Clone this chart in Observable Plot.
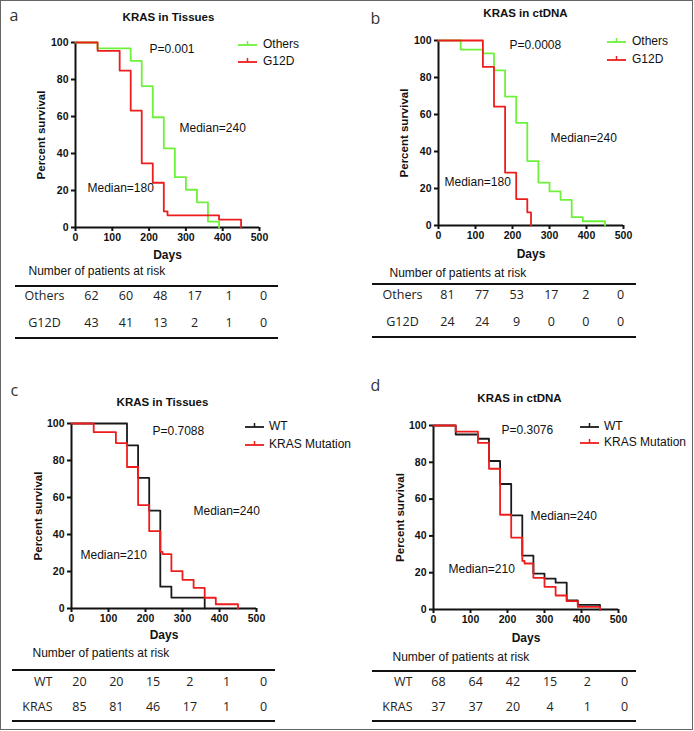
<!DOCTYPE html>
<html>
<head>
<meta charset="utf-8">
<script src="https://cdn.jsdelivr.net/npm/d3@7"></script>
<script src="https://cdn.jsdelivr.net/npm/@observablehq/plot@0.6"></script>
<style>
  body { margin: 0; background: white; }
  #fig { position: relative; width: 694px; height: 731px; background: white; overflow: hidden; }
  #border { position: absolute; left: 0; top: 0; width: 693px; height: 730px; border: 1.5px solid #666; box-sizing: border-box; }
  .panel { position: absolute; }
  .panel svg { position: absolute; left: 0; top: 0; }
  .abs { position: absolute; white-space: nowrap; }
  .leg { font-family: "Liberation Sans", Arial, sans-serif; font-size: 12px; color: #111; line-height: 1; }
  .hline { position: absolute; height: 2px; background: #111; }
</style>
</head>
<body>
<div id="fig"><div id="border"></div></div>
<script>
// ---------- data ----------
const xTicks = [0, 100, 200, 300, 400, 500];
const yTicks = [0, 20, 40, 60, 80, 100];
const riskDays = [0, 100, 200, 300, 400, 500];

// Panel a: KRAS in Tissues (Others vs G12D)
const aOthersDays = [0, 60, 150, 180, 210, 240, 270, 300, 330, 360, 390];
const aOthersSurv = [100, 96.8, 90.1, 76.4, 59.6, 42.8, 27.2, 20.4, 13.6, 3.2, 0];
const aG12DDays = [0, 60, 120, 150, 180, 210, 240, 250, 390, 450];
const aG12DSurv = [100, 95.5, 84.8, 63.2, 34.7, 24.2, 8.7, 6.6, 4.3, 0];
const aRiskOthers = [62, 60, 48, 17, 1, 0];
const aRiskG12D = [43, 41, 13, 2, 1, 0];

// Panel b: KRAS in ctDNA (Others vs G12D)
const bOthersDays = [0, 60, 120, 150, 180, 210, 240, 270, 300, 330, 360, 390, 450];
const bOthersSurv = [100, 95.1, 93, 83.8, 69.7, 55.5, 34.8, 23.2, 18.4, 13.9, 4.5, 2.3, 0];
const bG12DDays = [0, 120, 150, 180, 210, 240, 250];
const bG12DSurv = [100, 85.7, 64.3, 28.6, 14.3, 7.1, 0];
const bRiskOthers = [81, 77, 53, 17, 2, 0];
const bRiskG12D = [24, 24, 9, 0, 0, 0];

// Panel c: KRAS in Tissues (WT vs KRAS Mutation)
const cWTDays = [0, 150, 180, 210, 240, 270, 360];
const cWTSurv = [100, 88.2, 70.6, 52.9, 11.8, 5.9, 0];
const cMutDays = [0, 60, 120, 150, 180, 210, 240, 246, 270, 300, 330, 360, 390, 450];
const cMutSurv = [100, 95.3, 89.4, 76.5, 55.9, 41.8, 30.6, 29.4, 20.2, 15.5, 11.2, 5.8, 2.3, 0];
const cRiskWT = [20, 20, 15, 2, 1, 0];
const cRiskKRAS = [85, 81, 46, 17, 1, 0];

// Panel d: KRAS in ctDNA (WT vs KRAS Mutation)
const dWTDays = [0, 60, 120, 150, 180, 210, 240, 270, 300, 330, 360, 390, 450];
const dWTSurv = [100, 95.1, 92.8, 80.7, 68.2, 51.2, 29.3, 19.5, 16.8, 14.6, 4.9, 2.5, 0];
const dMutDays = [0, 60, 120, 150, 180, 210, 240, 246, 270, 300, 330, 360, 390, 450];
const dMutSurv = [100, 96.7, 90.6, 76.5, 51.5, 39.1, 26.4, 25, 17.2, 12.3, 7.6, 4.5, 1.4, 0];
const dRiskWT = [68, 64, 42, 15, 2, 0];
const dRiskKRAS = [37, 37, 20, 4, 1, 0];

const titles = ["KRAS in Tissues", "KRAS in ctDNA", "KRAS in Tissues", "KRAS in ctDNA"];
const panelLetters = ["a", "b", "c", "d"];
const pValues = ["P=0.001", "P=0.0008", "P=0.7088", "P=0.3076"];
const medianHigh = ["Median=240", "Median=240", "Median=240", "Median=240"];
const medianLow = ["Median=180", "Median=180", "Median=210", "Median=210"];
const legendNamesAB = ["Others", "G12D"];
const legendNamesCD = ["WT", "KRAS Mutation"];
const tableRowsAB = ["Others", "G12D"];
const tableRowsCD = ["WT", "KRAS"];

// ---------- styles / layout ----------
const FONT = '"Liberation Sans", Arial, sans-serif';
const GREEN = "#6ef13a", RED = "#ee1d1d", BLACK = "#1a1a1a";

const panels = [
  { left: 0, top: 0, w: 347, h: 365, fl: 75, fr: 259, ft: 42, fb: 227,
    title: [168, 17], letter: [9, 20], ylab: 41, days: 255, p: [149, 49], mHi: [179, 128], mLo: [87, 188],
    leg: { sw: 238, tx: 263, ys: [45, 62] },
    tab: { num: [28, 271], lines: [15, 278, 286, 338], rows: [295, 322], labX: 44, labAnchor: "middle", vals: [91, 263] },
    s1: [aOthersDays, aOthersSurv], s2: [aG12DDays, aG12DSurv], colors: [GREEN, RED],
    names: legendNamesAB, rowNames: tableRowsAB, risk: [aRiskOthers, aRiskG12D] },
  { left: 347, top: 0, w: 347, h: 365, fl: 91, fr: 276, ft: 40, fb: 225,
    title: [178, 13], letter: [23, 23], ylab: 57, days: 254, p: [162, 45], mHi: [203, 138], mLo: [97, 182],
    leg: { sw: 260, tx: 285, ys: [42, 60] },
    tab: { num: [42, 273], lines: [25, 289, 284, 337], rows: [294, 321], labX: 55, labAnchor: "middle", vals: [100, 273] },
    s1: [bOthersDays, bOthersSurv], s2: [bG12DDays, bG12DSurv], colors: [GREEN, RED],
    names: legendNamesAB, rowNames: tableRowsAB, risk: [bRiskOthers, bRiskG12D] },
  { left: 0, top: 370, w: 347, h: 361, fl: 71, fr: 256, ft: 53, fb: 238,
    title: [162, 32], letter: [10, 25], ylab: 38, days: 265, p: [152, 61], mHi: [193, 141], mLo: [80, 185],
    leg: { sw: 245, tx: 269, ys: [57, 75] },
    tab: { num: [32, 283], lines: [12, 275, 300, 351], rows: [311, 336], labX: 52, labAnchor: "end", vals: [79, 263] },
    s1: [cWTDays, cWTSurv], s2: [cMutDays, cMutSurv], colors: [BLACK, RED],
    names: legendNamesCD, rowNames: tableRowsCD, risk: [cRiskWT, cRiskKRAS] },
  { left: 347, top: 370, w: 347, h: 361, fl: 86, fr: 271, ft: 55, fb: 239,
    title: [172, 28], letter: [23, 20], ylab: 53, days: 268, p: [154, 60], mHi: [183, 146], mLo: [101, 199],
    leg: { sw: 233, tx: 257, ys: [57, 73] },
    tab: { num: [45, 287], lines: [25, 289, 301, 351], rows: [311, 336], labX: 65, labAnchor: "end", vals: [91, 277] },
    s1: [dWTDays, dWTSurv], s2: [dMutDays, dMutSurv], colors: [BLACK, RED],
    names: legendNamesCD, rowNames: tableRowsCD, risk: [dRiskWT, dRiskKRAS] }
];

const fig = document.getElementById("fig");

panels.forEach((P, i) => {
  const div = document.createElement("div");
  div.className = "panel";
  Object.assign(div.style, { left: P.left + "px", top: P.top + "px", width: P.w + "px", height: P.h + "px" });
  fig.appendChild(div);

  const series1 = d3.zip(P.s1[0], P.s1[1]).map(([t, s]) => ({ t, s }));
  const series2 = d3.zip(P.s2[0], P.s2[1]).map(([t, s]) => ({ t, s }));
  const norm = { fontWeight: "normal", fontSize: 12, fill: "#111", lineAnchor: "middle", textAnchor: "start" };

  const km = Plot.plot({
    width: P.w, height: P.h,
    marginLeft: P.fl, marginRight: P.w - P.fr, marginTop: P.ft, marginBottom: P.h - P.fb,
    x: { domain: [0, 500] },
    y: { domain: [0, 100] },
    style: { fontFamily: FONT, fontSize: "10.5px", fontWeight: "bold", background: "transparent", overflow: "visible", color: "#111" },
    marks: [
      Plot.axisX({ ticks: xTicks, tickSize: 4, tickPadding: 2, strokeWidth: 2, label: null }),
      Plot.axisY({ ticks: yTicks, tickSize: 4, tickPadding: 3, strokeWidth: 2, label: null }),
      Plot.ruleX([0], { strokeWidth: 2 }),
      Plot.ruleY([0], { strokeWidth: 2 }),
      Plot.line(series1, { x: "t", y: "s", curve: "step-after", stroke: P.colors[0], strokeWidth: 1.8 }),
      Plot.line(series2, { x: "t", y: "s", curve: "step-after", stroke: P.colors[1], strokeWidth: 1.8 }),
      Plot.text([titles[i]], { text: d => d, frameAnchor: "top-left", dx: P.title[0] - P.fl, dy: P.title[1] - P.ft,
        textAnchor: "middle", lineAnchor: "middle", fontSize: 11.5, fontWeight: "bold" }),
      Plot.text(["Percent survival"], { text: d => d, frameAnchor: "left", rotate: -90, dx: P.ylab - P.fl,
        textAnchor: "middle", lineAnchor: "middle", fontSize: 11.5, fontWeight: "bold" }),
      Plot.text(["Days"], { text: d => d, frameAnchor: "bottom", dy: P.days - P.fb,
        textAnchor: "middle", lineAnchor: "middle", fontSize: 12, fontWeight: "bold" }),
      Plot.text([pValues[i]], { text: d => d, frameAnchor: "top-left", dx: P.p[0] - P.fl, dy: P.p[1] - P.ft, ...norm }),
      Plot.text([medianHigh[i]], { text: d => d, frameAnchor: "top-left", dx: P.mHi[0] - P.fl, dy: P.mHi[1] - P.ft, ...norm }),
      Plot.text([medianLow[i]], { text: d => d, frameAnchor: "top-left", dx: P.mLo[0] - P.fl, dy: P.mLo[1] - P.ft, ...norm }),
      Plot.text([panelLetters[i]], { text: d => d, frameAnchor: "top-left", dx: P.letter[0] - P.fl, dy: P.letter[1] - P.ft,
        textAnchor: "start", lineAnchor: "bottom", fontSize: 16, fontWeight: "normal", fontFamily: '"Open Sans", sans-serif', fill: "#333" })
    ]
  });
  div.appendChild(km);

  // risk table
  const riskData = [];
  P.rowNames.forEach((r, j) => P.risk[j].forEach((n, k) => riskData.push({ row: r, t: riskDays[k], n })));
  const tbl = Plot.plot({
    width: P.w, height: P.h, margin: 0,
    x: { domain: [0, 500], range: P.tab.vals, axis: null },
    y: { type: "point", domain: P.rowNames, range: P.tab.rows, padding: 0, axis: null },
    style: { fontFamily: '"Open Sans", sans-serif', fontSize: "12.5px", background: "transparent", overflow: "visible", color: "#222" },
    marks: [
      Plot.text(riskData, { x: "t", y: "row", text: "n", textAnchor: "middle", lineAnchor: "middle" }),
      Plot.text(P.rowNames, { y: d => d, text: d => d, frameAnchor: "left", dx: P.tab.labX, textAnchor: P.tab.labAnchor, lineAnchor: "middle" }),
      Plot.text(["Number of patients at risk"], { text: d => d, frameAnchor: "top-left", dx: P.tab.num[0], dy: P.tab.num[1],
        textAnchor: "start", lineAnchor: "middle", fontFamily: FONT, fontSize: 12, fill: "#111" })
    ]
  });
  div.appendChild(tbl);

  // table rules
  const [x1, x2, yA, yB] = P.tab.lines;
  [yA, yB].forEach(y => {
    const l = document.createElement("div");
    l.className = "hline";
    Object.assign(l.style, { left: x1 + "px", width: (x2 - x1) + "px", top: (y - 1) + "px" });
    div.appendChild(l);
  });

  // legend
  P.names.forEach((name, j) => {
    const y = P.leg.ys[j];
    const sw = document.createElementNS("http://www.w3.org/2000/svg", "svg");
    sw.setAttribute("width", 19); sw.setAttribute("height", 10);
    sw.style.left = P.leg.sw + "px"; sw.style.top = (y - 6) + "px"; sw.style.position = "absolute";
    sw.innerHTML = `<line x1="0" x2="19" y1="6" y2="6" stroke="${P.colors[j]}" stroke-width="1.8"/>` +
                   `<line x1="9.5" x2="9.5" y1="6" y2="2" stroke="${P.colors[j]}" stroke-width="1.5"/>`;
    div.appendChild(sw);
    const t = document.createElement("div");
    t.className = "abs leg";
    t.textContent = name;
    Object.assign(t.style, { left: P.leg.tx + "px", top: (y - 7) + "px" });
    div.appendChild(t);
  });
});
</script>
</body>
</html>
